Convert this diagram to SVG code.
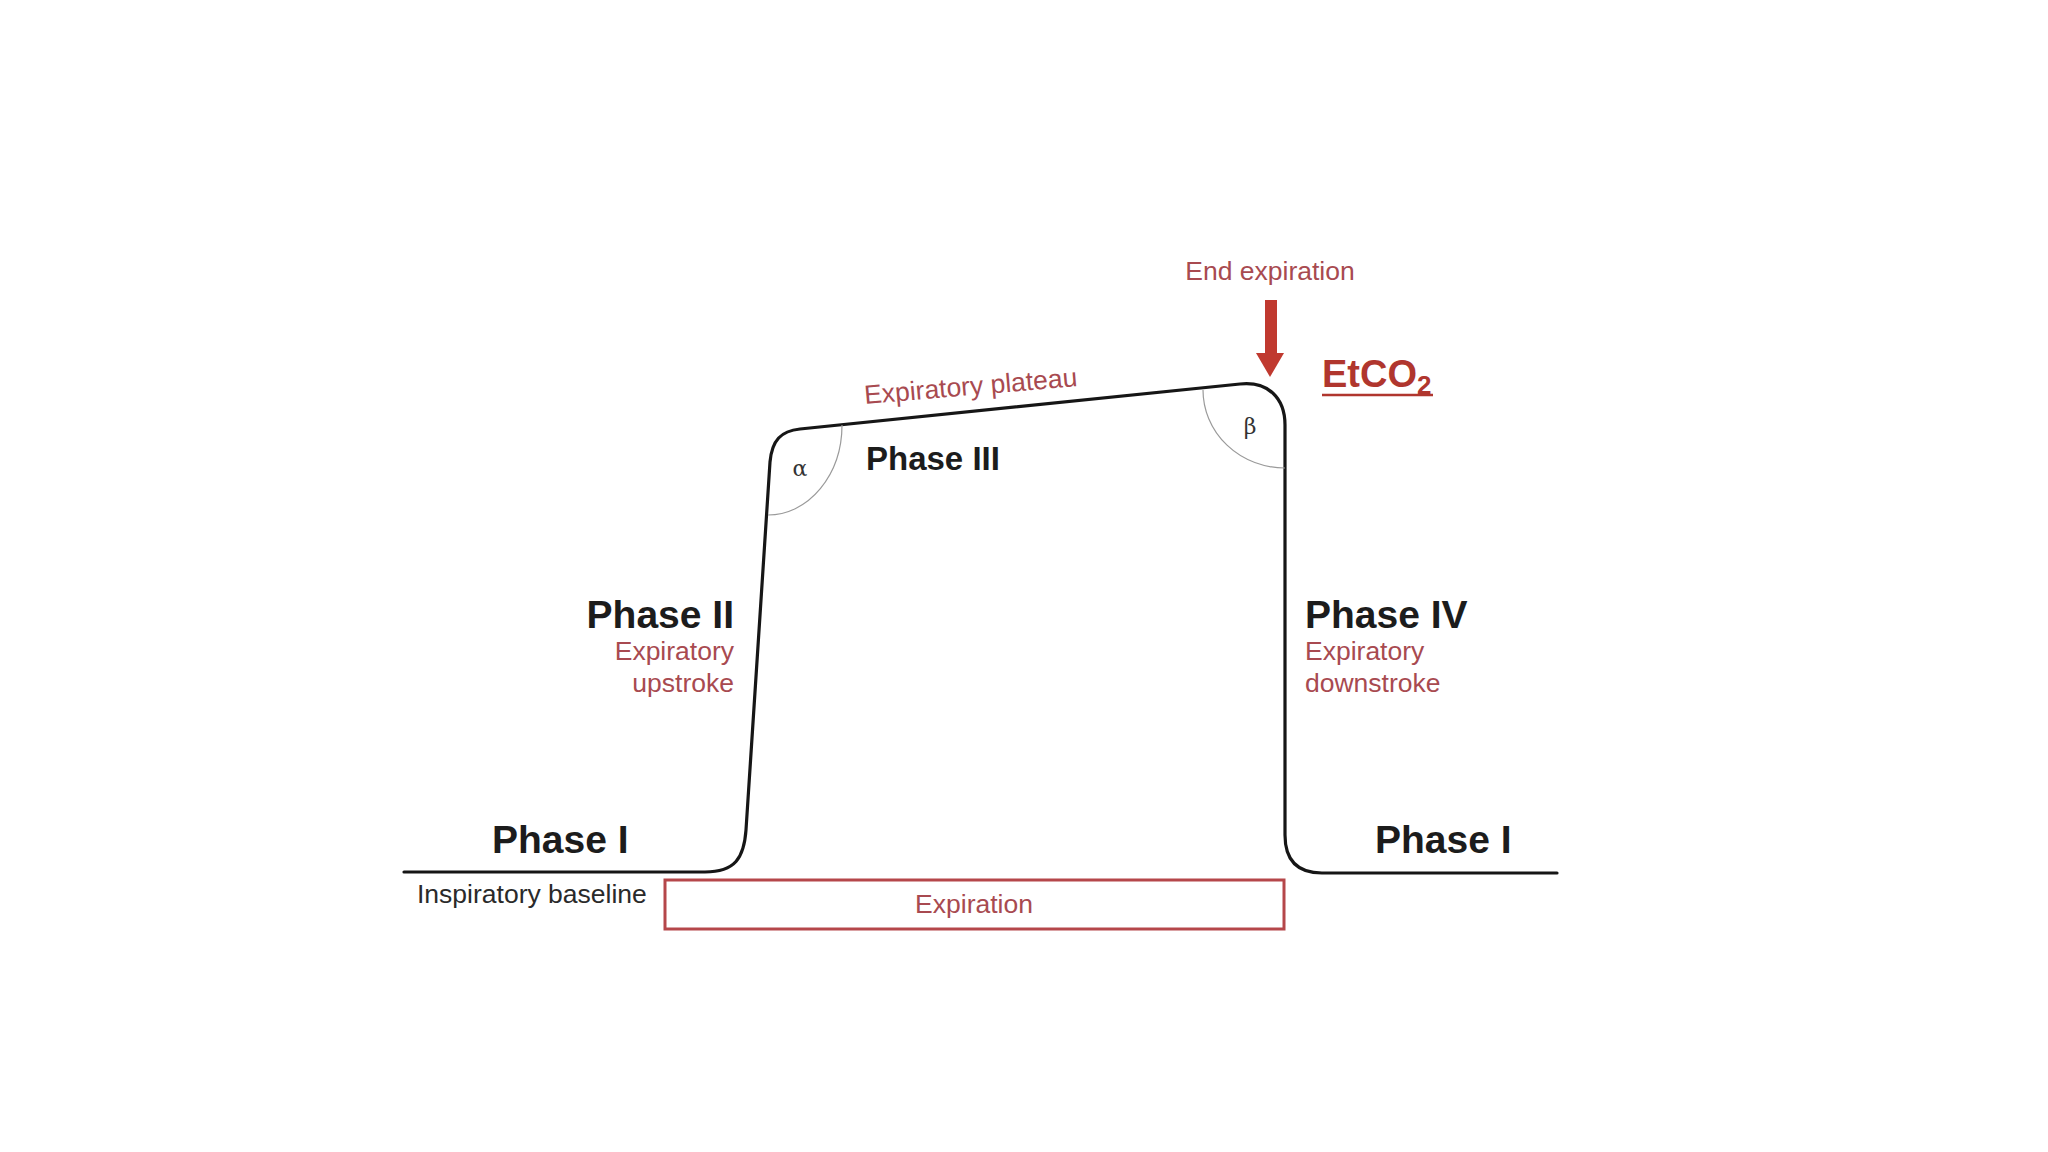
<svg xmlns="http://www.w3.org/2000/svg" width="2048" height="1152" viewBox="0 0 2048 1152">
<style>
.phase{font-family:"Liberation Sans",Arial,sans-serif;font-weight:bold;fill:#1c1c1c;}
.lbl{font-family:"Liberation Sans",Arial,sans-serif;font-size:26.5px;fill:#a84a50;}
.dark{font-family:"Liberation Sans",Arial,sans-serif;font-size:26.5px;fill:#2a2a2a;}
.greek{font-family:"DejaVu Serif","Liberation Serif",serif;font-size:22px;fill:#333;}
.curve{fill:none;stroke:#161616;stroke-width:3.2;stroke-linecap:round;stroke-linejoin:round;}
.angle{fill:none;stroke:#9a9a9a;stroke-width:1.2;}
</style>
<rect width="2048" height="1152" fill="#ffffff"/>
<g id="connectors">
  <path id="capnogram" class="curve" d="M 404 872 L 705 872 C 735 872 744 858 746 830 L 770 462 C 772 440 781 431 800 429 L 1240 384 C 1268 381 1285 398 1285 425 L 1285 835 C 1285 860 1297 873 1322 873 L 1557 873"/>
  <path id="alpha-arc" class="angle" d="M 842 425 A 74 90 0 0 1 768 515"/>
  <path id="beta-arc" class="angle" d="M 1203 390 A 82 78 0 0 0 1285 468"/>
  <g id="end-arrow" fill="#c0392f">
    <rect x="1265" y="300" width="12" height="54"/>
    <polygon points="1256,353 1284,353 1270,377"/>
  </g>
</g>
<g id="phase1-left"><text class="phase" x="492" y="853" font-size="39">Phase I</text></g>
<g id="baseline-label"><text class="dark" x="417" y="903">Inspiratory baseline</text></g>
<g id="phase2">
  <text class="phase" x="734" y="628" font-size="39" text-anchor="end">Phase II</text>
  <text class="lbl" x="734" y="660" text-anchor="end">Expiratory</text>
  <text class="lbl" x="734" y="692" text-anchor="end">upstroke</text>
</g>
<g id="phase3">
  <text class="phase" x="866" y="470" font-size="33">Phase III</text>
  <text class="lbl" x="865" y="404" transform="rotate(-4.8 865 404)">Expiratory plateau</text>
</g>
<g id="alpha"><text class="greek" x="800" y="476" text-anchor="middle">α</text></g>
<g id="beta"><text class="greek" x="1250" y="434" text-anchor="middle">β</text></g>
<g id="phase4">
  <text class="phase" x="1305" y="628" font-size="39">Phase IV</text>
  <text class="lbl" x="1305" y="660">Expiratory</text>
  <text class="lbl" x="1305" y="692">downstroke</text>
</g>
<g id="phase1-right"><text class="phase" x="1375" y="853" font-size="39">Phase I</text></g>
<g id="end-expiration"><text class="lbl" x="1270" y="280" text-anchor="middle">End expiration</text></g>
<g id="etco2">
  <text x="1322" y="387" font-family="&quot;Liberation Sans&quot;,Arial,sans-serif" font-weight="bold" font-size="38" fill="#b0362e">EtCO<tspan font-size="26" dy="7">2</tspan></text>
  <line x1="1322" y1="395" x2="1433" y2="395" stroke="#b0362e" stroke-width="2.5"/>
</g>
<g id="expiration-box">
  <rect x="665" y="880" width="619" height="49" fill="none" stroke="#b5474a" stroke-width="3"/>
  <text class="lbl" x="974" y="913" text-anchor="middle">Expiration</text>
</g>
</svg>
